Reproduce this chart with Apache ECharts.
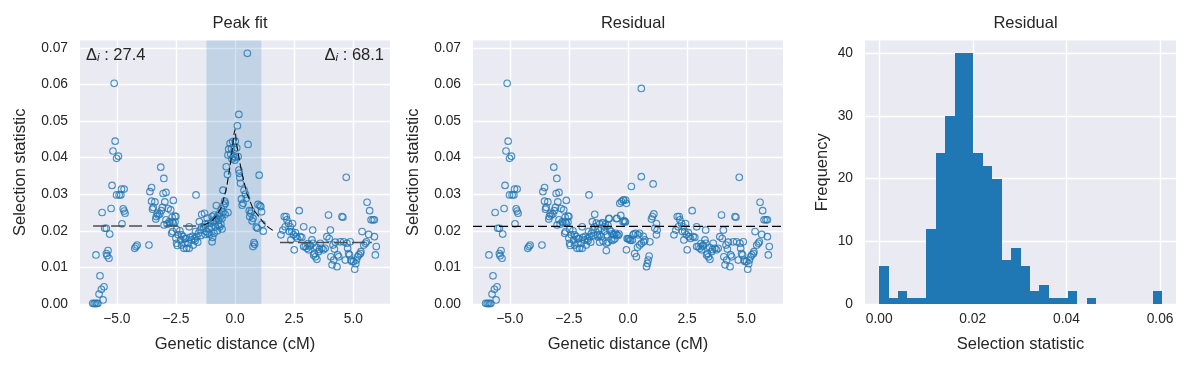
<!DOCTYPE html>
<html><head><meta charset="utf-8">
<script src="https://cdn.jsdelivr.net/npm/echarts@6/dist/echarts.min.js"></script>
<style>html,body{margin:0;padding:0;background:#fff}#c{width:1191px;height:368px}</style>
</head><body><div id="c"></div>
<script>
// ---------------- data ----------------
const panelTitles = ['Peak fit', 'Residual', 'Residual'];
const distTicks = [-5, -2.5, 0, 2.5, 5];
const statTicks = [0, 0.01, 0.02, 0.03, 0.04, 0.05, 0.06, 0.07];
const histXTicks = [0, 0.02, 0.04, 0.06];
const histYTicks = [0, 10, 20, 30, 40];
const deltaLeft = 27.4;
const deltaRight = 68.1;

// points shared by both scatter panels (outside the peak window)
const outerPoints = [
  [-6.02,0.0002],[-5.96,0.0001],[-5.91,0.0002],[-5.85,0.0001],[-5.80,0.0002],
  [-5.58,0.0011],[-5.75,0.0027],[-5.65,0.0040],[-5.54,0.0047],[-5.71,0.0077],
  [-5.88,0.0134],[-5.37,0.0146],[-5.44,0.0138],[-5.41,0.0132],[-5.33,0.0125],
  [-5.30,0.0191],[-5.51,0.0207],[-5.44,0.0207],[-4.78,0.0219],
  [-5.62,0.0250],[-5.24,0.0261],[-4.73,0.0260],[-4.69,0.0254],[-4.65,0.0248],
  [-5.01,0.0298],[-4.90,0.0298],[-4.83,0.0298],[-4.80,0.0314],[-4.69,0.0314],[-5.20,0.0324],
  [-5.16,0.0418],[-5.07,0.0445],[-4.93,0.0404],[-5.01,0.0398],[-5.11,0.0603],
  [-4.24,0.0152],[-4.19,0.0157],[-4.14,0.0161],[-3.64,0.0161],
  [-3.60,0.0307],[-3.53,0.0318],[-3.53,0.0281],[-3.49,0.0259],[-3.46,0.0264],[-3.39,0.0279],
  [-3.35,0.0232],[-3.33,0.0239],[-3.29,0.0248],[-3.25,0.0243],[-3.18,0.0246],[-3.14,0.0374],
  [-3.12,0.0255],[-3.07,0.0264],[-3.04,0.0302],[-3.01,0.0343],[-3.00,0.0216],[-2.97,0.0279],
  [-2.92,0.0305],[-2.92,0.0230],[-2.87,0.0218],[-2.83,0.0261],[-2.78,0.0225],[-2.75,0.0222],
  [-2.72,0.0257],[-2.66,0.0237],[-2.66,0.0224],[-2.61,0.0283],[-2.61,0.0221],[-2.54,0.0240],
  [-2.54,0.0224],[-2.50,0.0239],[-2.68,0.0193],
  [-2.64,0.0198],[-2.47,0.0204],[-2.40,0.0189],[-2.50,0.0180],[-2.47,0.0166],[-2.44,0.0160],
  [-2.33,0.0200],[-2.30,0.0175],[-2.26,0.0189],[-2.26,0.0161],[-2.19,0.0184],[-2.16,0.0152],
  [-2.12,0.0178],[-2.12,0.0166],[-2.08,0.0179],[-2.05,0.0152],[-1.98,0.0166],[-1.94,0.0152],
  [-1.94,0.0211],[-1.91,0.0182],[-1.84,0.0175],[-1.80,0.0185],[-1.77,0.0161],[-1.72,0.0178],
  [-1.69,0.0173],[-1.67,0.0198],[-1.65,0.0298],[-1.62,0.0184],[-1.58,0.0169],[-1.55,0.0193],
  [-1.51,0.0225],[-1.48,0.0202],[-1.44,0.0187],[-1.41,0.0211],[-1.41,0.0245],
  [1.94,0.0189],[2.02,0.0202],[2.08,0.0239],[2.16,0.0239],[2.19,0.0230],[2.26,0.0220],
  [2.33,0.0211],[2.30,0.0198],[2.40,0.0198],[2.43,0.0220],[2.47,0.0189],[2.50,0.0148],
  [2.58,0.0184],[2.64,0.0179],[2.71,0.0255],[2.75,0.0184],[2.82,0.0182],[2.90,0.0211],
  [2.90,0.0157],[2.97,0.0157],[3.04,0.0152],[3.11,0.0148],[3.15,0.0158],[3.18,0.0161],
  [3.25,0.0175],[3.28,0.0202],[3.29,0.0166],[3.32,0.0134],[3.36,0.0138],[3.40,0.0129],
  [3.46,0.0122],[3.53,0.0143],[3.57,0.0149],[3.60,0.0166],[3.67,0.0152],[3.74,0.0148],
  [3.81,0.0152],[3.88,0.0184],[3.95,0.0243],[3.98,0.0179],[4.03,0.0202],[4.05,0.0129],
  [4.10,0.0107],[4.14,0.0161],[4.17,0.0120],[4.24,0.0169],[4.31,0.0102],[4.34,0.0134],
  [4.38,0.0129],[4.45,0.0170],[4.52,0.0239],[4.56,0.0237],[4.59,0.0170],[4.66,0.0120],
  [4.70,0.0346],[4.73,0.0166],[4.76,0.0152],[4.80,0.0138],[4.84,0.0134],[4.87,0.0170],
  [4.90,0.0120],[4.94,0.0116],[5.01,0.0116],[5.06,0.0095],[5.13,0.0120],[5.18,0.0129],
  [5.23,0.0134],[5.30,0.0138],[5.32,0.0143],[5.37,0.0198],[5.44,0.0161],[5.51,0.0166],
  [5.55,0.0170],[5.58,0.0278],[5.65,0.0190],[5.69,0.0255],[5.75,0.0230],[5.83,0.0230],
  [5.89,0.0230],[5.89,0.0184],[5.93,0.0134],[5.97,0.0157],
  [2.12,0.0211],[2.36,0.0175],[2.55,0.0195],[3.08,0.0165],[3.45,0.0155],[4.20,0.0150],[5.10,0.0110]
];

// peak window points as drawn in the "Peak fit" panel
const peakWindowPoints = [
  [-1.29,0.0248],[-1.26,0.0218],[-1.26,0.0190],[-1.21,0.0198],[-1.14,0.0220],[-1.14,0.0193],
  [-1.07,0.0190],[-1.03,0.0221],[-1.00,0.0211],[-0.97,0.0239],[-0.97,0.0170],[-0.95,0.0182],
  [-0.89,0.0243],[-0.89,0.0193],[-0.86,0.0229],[-0.83,0.0211],[-0.79,0.0269],[-0.79,0.0234],
  [-0.75,0.0200],[-0.72,0.0241],[-0.69,0.0229],[-0.65,0.0248],[-0.65,0.0211],[-0.61,0.0239],
  [-0.60,0.0218],[-0.58,0.0260],[-0.55,0.0234],[-0.51,0.0311],[-0.51,0.0251],[-0.47,0.0270],
  [-0.44,0.0281],[-0.42,0.0245],[-0.41,0.0275],[-0.37,0.0375],[-0.32,0.0354],[-0.30,0.0407],
  [-0.30,0.0250],[-0.27,0.0423],[-0.21,0.0439],[-0.18,0.0409],[-0.15,0.0425],[-0.13,0.0396],
  [-0.10,0.0444],[-0.07,0.0403],[-0.04,0.0423],[-0.01,0.0393],[0.01,0.0445],[0.01,0.0400],
  [0.07,0.0427],[0.10,0.0487],[0.13,0.0403],[0.16,0.0518],[0.16,0.0366],[0.18,0.0357],
  [0.20,0.0345],[0.23,0.0330],[0.27,0.0287],[0.30,0.0270],[0.34,0.0275],[0.38,0.0311],
  [0.44,0.0300],[0.48,0.0289],[0.52,0.0685],[0.55,0.0436],[0.60,0.0255],[0.62,0.0239],
  [0.66,0.0248],[0.69,0.0254],[0.72,0.0227],[0.76,0.0234],[0.76,0.0157],[0.80,0.0168],
  [0.83,0.0163],[0.90,0.0210],[0.95,0.0207],[0.97,0.0272],[1.02,0.0352],[1.05,0.0269],
  [1.09,0.0266],[1.12,0.0252],[1.14,0.0218],[1.19,0.0199],
  [-1.33,0.0210],[-1.18,0.0235],[-1.10,0.0205],[-0.92,0.0225],[-0.70,0.0215],[-0.55,0.0205]
];

// peak window points as drawn in the "Residual" panel
const residualWindowPoints = [
  [-1.30,0.0189],[-1.20,0.0189],[-1.13,0.0184],[-1.09,0.0222],[-1.13,0.0207],[-0.99,0.0211],
  [-0.92,0.0166],[-0.89,0.0189],[-0.81,0.0234],[-0.78,0.0202],[-0.71,0.0198],[-0.61,0.0189],
  [-0.52,0.0193],[-0.47,0.0189],[-0.38,0.0191],[-0.47,0.0234],[-0.35,0.0275],[-0.28,0.0280],
  [-0.21,0.0284],[-0.18,0.0284],[-0.10,0.0284],[-0.07,0.0275],[-0.21,0.0225],[-0.14,0.0225],
  [-0.04,0.0179],[0.00,0.0178],[-0.07,0.0148],[0.14,0.0321],[0.07,0.0175],[0.21,0.0189],
  [0.28,0.0138],[0.35,0.0129],[0.32,0.0193],[0.42,0.0189],[0.49,0.0193],[0.56,0.0348],
  [0.49,0.0161],[0.56,0.0166],[0.66,0.0170],[0.71,0.0175],[0.78,0.0102],[0.82,0.0111],
  [0.85,0.0120],[0.89,0.0131],[0.92,0.0170],[0.99,0.0232],[1.03,0.0239],[1.06,0.0328],
  [1.09,0.0246],[1.13,0.0207],[1.20,0.0220],[1.20,0.0189],[1.23,0.0202],[0.56,0.0589],
  [-0.80,0.0233],[-0.49,0.0233],[-0.31,0.0242],[-0.17,0.0228],[-0.11,0.0224],[-1.34,0.0221],
  [-1.20,0.0219],[-1.06,0.0221],[-0.96,0.0217],[-0.85,0.0215],[-1.27,0.0203],[-0.99,0.0199],
  [-0.68,0.0192],[-0.59,0.0190],[-0.42,0.0187],[-0.56,0.0178],[-0.71,0.0176],[-0.64,0.0174],
  [-1.27,0.0183],[-1.06,0.0172],[-1.20,0.0169],[-0.85,0.0169],[-0.92,0.0146],[0.03,0.0178],
  [0.11,0.0174],[0.18,0.0174],[0.25,0.0192],[0.64,0.0185],[0.40,0.0155]
];

// fitted curve pieces
const fitLeftBaseline = [[-6.00,0.0213],[-1.35,0.0213]];
const fitPeakCurve = [
  [-1.35,0.0215],[-1.00,0.0225],[-0.78,0.0242],[-0.60,0.0262],[-0.49,0.0285],[-0.35,0.0321],
  [-0.24,0.0365],[-0.14,0.0410],[-0.04,0.0466],[0.00,0.0477],[0.07,0.0435],[0.21,0.0384],
  [0.28,0.0360],[0.50,0.0302],[0.64,0.0280],[0.78,0.0257],[1.06,0.0235],[1.20,0.0222],
  [1.40,0.0210],[1.62,0.0200]
];
const fitRightBaseline = [[1.90,0.0168],[5.78,0.0168]];
const residualLevel = 0.0212;
const peakWindow = [-1.21, 1.11];

// histogram of residuals (30 bins)
const histRange = [0, 0.0604];
const histCounts = [6,1,2,1,1,12,24,30,40,40,24,22,20,7,9,6,2,3,1,1,2,0,1,0,0,0,0,0,0,2];

// ---------------- chart ----------------
const FONT = '"Liberation Sans", Arial, sans-serif';
const TXT = '#262626';
const BLUE = '#1f77b4';
const xExt = [-6.555, 6.55];
const yExt = [0, 0.072];

const fmtDist = v => v.toFixed(1).replace('-', '\u2212');
const fmtStat = v => v.toFixed(2);

const gridBase = {top: 40.5, height: 263.5, show: true, backgroundColor: '#EAEAF2', borderWidth: 0, containLabel: false};
const grids = [
  Object.assign({left: 80, width: 310}, gridBase),
  Object.assign({left: 473, width: 310}, gridBase),
  Object.assign({left: 865, width: 311}, gridBase)
];

function axisCommon(ticks, fmt, isX) {
  return {
    type: 'value',
    axisLine: {show: false},
    axisTick: {show: false, customValues: ticks},
    axisLabel: {customValues: ticks, formatter: fmt, color: TXT, fontSize: 13.8, fontFamily: FONT, margin: isX ? 8 : 12},
    splitLine: {show: true, lineStyle: {color: '#ffffff', width: 1.4}},
    nameLocation: 'middle',
    nameTextStyle: {color: TXT, fontSize: 16.5, fontFamily: FONT},
  };
}

const xAxes = [
  Object.assign(axisCommon(distTicks, fmtDist, true), {gridIndex: 0, min: xExt[0], max: xExt[1], name: 'Genetic distance (cM)', nameGap: 32}),
  Object.assign(axisCommon(distTicks, fmtDist, true), {gridIndex: 1, min: xExt[0], max: xExt[1], name: 'Genetic distance (cM)', nameGap: 32}),
  Object.assign(axisCommon(histXTicks, fmtStat, true), {gridIndex: 2, min: -0.00302, max: 0.0634, name: 'Selection statistic', nameGap: 32})
];
const yAxes = [
  Object.assign(axisCommon(statTicks, fmtStat, false), {gridIndex: 0, min: yExt[0], max: yExt[1], name: 'Selection statistic', nameGap: 51}),
  Object.assign(axisCommon(statTicks, fmtStat, false), {gridIndex: 1, min: yExt[0], max: yExt[1], name: 'Selection statistic', nameGap: 51}),
  Object.assign(axisCommon(histYTicks, v => String(v), false), {gridIndex: 2, min: 0, max: 42, name: 'Frequency', nameGap: 34})
];

const scatterStyle = {
  type: 'scatter', symbol: 'circle', symbolSize: 6.6, z: 3,
  itemStyle: {color: 'rgba(0,0,0,0)', borderColor: BLUE, borderWidth: 1.1},
  emphasis: {disabled: true}, silent: true
};
const dashLine = (data, xi, color, width, dash, z) => ({
  type: 'line', xAxisIndex: xi, yAxisIndex: xi, data: data, showSymbol: false, symbol: 'none',
  lineStyle: {color: color, width: width, type: dash}, z: z, silent: true
});

const binW = (histRange[1] - histRange[0]) / histCounts.length;
const histData = histCounts.map((c, i) => [histRange[0] + i * binW, histRange[0] + (i + 1) * binW, c]);

const series = [
  // highlighted peak window
  {type: 'line', xAxisIndex: 0, yAxisIndex: 0, data: [[xExt[0], 0], [xExt[1], 0]], showSymbol: false,
   lineStyle: {opacity: 0}, z: 1, silent: true,
   markArea: {silent: true, itemStyle: {color: 'rgba(31,119,180,0.2)'},
     data: [[{xAxis: peakWindow[0]}, {xAxis: peakWindow[1]}]]}},
  Object.assign({xAxisIndex: 0, yAxisIndex: 0, data: outerPoints.concat(peakWindowPoints)}, scatterStyle),
  dashLine(fitLeftBaseline, 0, '#4d4d4d', 1.5, [13, 5], 4),
  dashLine(fitPeakCurve, 0, '#111111', 1.1, [7, 3], 4),
  dashLine(fitRightBaseline, 0, '#4d4d4d', 1.5, [13, 5], 4),
  Object.assign({xAxisIndex: 1, yAxisIndex: 1, data: outerPoints.concat(residualWindowPoints)}, scatterStyle),
  dashLine([[xExt[0], residualLevel], [xExt[1], residualLevel]], 1, '#000000', 1.1, [9, 4], 4),
  {type: 'custom', xAxisIndex: 2, yAxisIndex: 2, data: histData, silent: true, z: 3,
   renderItem: function (params, api) {
     const p0 = api.coord([api.value(0), api.value(2)]);
     const p1 = api.coord([api.value(1), 0]);
     const x0 = Math.round(p0[0]), x1 = Math.round(p1[0]);
     const y0 = Math.round(p0[1]), y1 = Math.round(p1[1]);
     return {type: 'rect', shape: {x: x0, y: y0, width: x1 - x0, height: y1 - y0},
             style: {fill: BLUE}};
   }}
];

const titleCenters = [235, 628, 1020.5];
const titles = panelTitles.map((t, i) => ({
  text: t, left: titleCenters[i], top: 10, textAlign: 'center',
  textStyle: {color: TXT, fontSize: 16.5, fontWeight: 'normal', fontFamily: FONT}
}));

const richDelta = {
  d: {fontSize: 16.5, fontFamily: FONT, fill: TXT},
  s: {fontSize: 11.5, fontFamily: FONT, fontStyle: 'italic', fill: TXT, verticalAlign: 'bottom', padding: [0, 0, 0, 0]},
  n: {fontSize: 16.5, fontFamily: FONT, fill: TXT}
};

const chart = echarts.init(document.getElementById('c'), null, {renderer: 'canvas'});
chart.setOption({
  animation: false,
  backgroundColor: '#ffffff',
  title: titles,
  grid: grids,
  xAxis: xAxes,
  yAxis: yAxes,
  series: series,
  graphic: [
    {type: 'text', left: 86, top: 47, z: 10, silent: true,
     style: {text: '{d|\u0394}{s|i}{n| : ' + deltaLeft.toFixed(1) + '}', rich: richDelta, fill: TXT}},
    {type: 'text', right: 1191 - 384, top: 47, z: 10, silent: true,
     style: {text: '{d|\u0394}{s|i}{n| : ' + deltaRight.toFixed(1) + '}', rich: richDelta, fill: TXT}}
  ]
});
</script>
</body></html>
